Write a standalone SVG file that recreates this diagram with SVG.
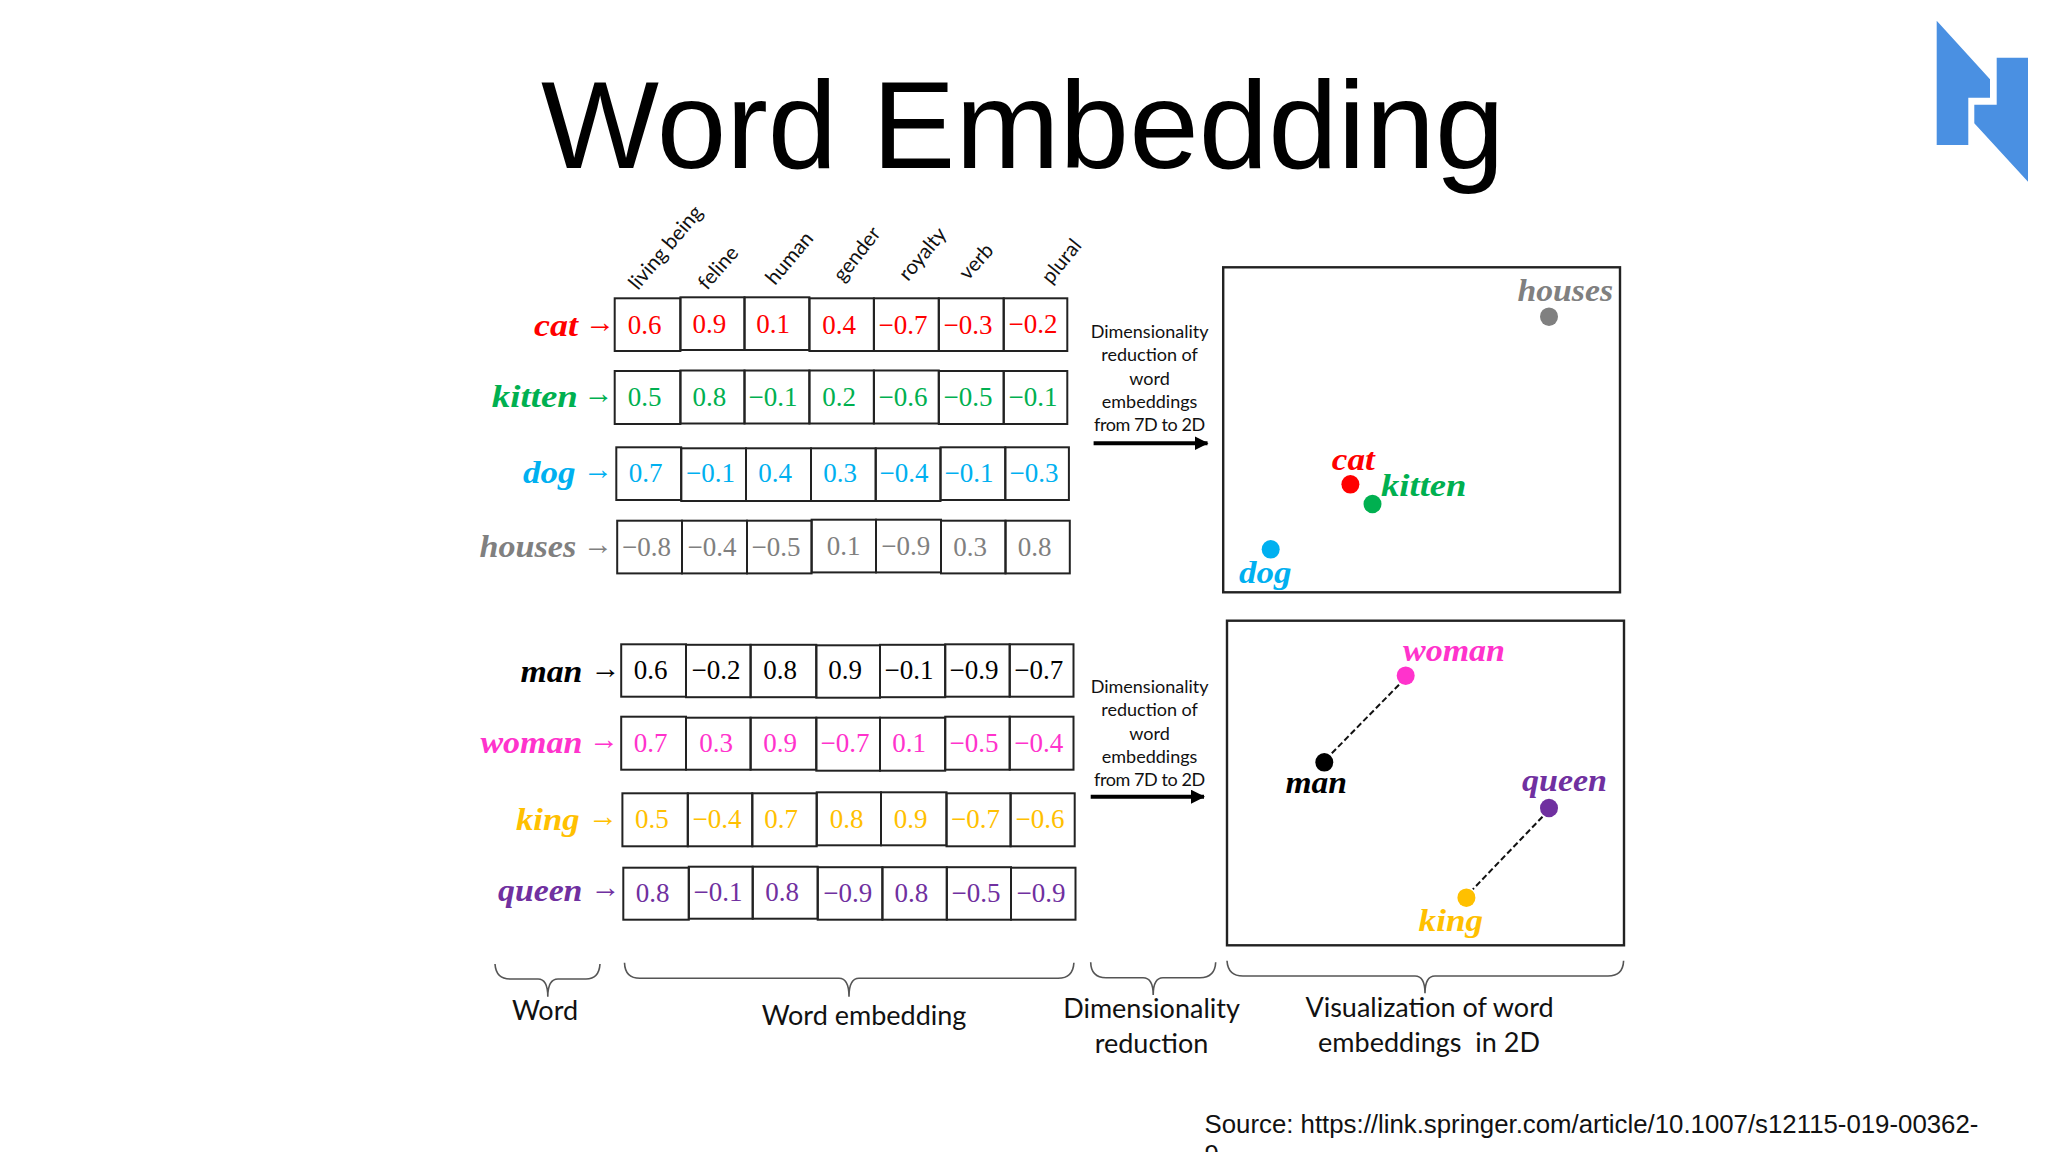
<svg xmlns="http://www.w3.org/2000/svg" width="2048" height="1152" viewBox="0 0 2048 1152">
<defs>
<style>
text{font-family:"Liberation Serif",serif}
.title{font-family:"Liberation Sans",Arial,sans-serif;font-size:125px;fill:#000}
.src{font-family:"Liberation Sans",Arial,sans-serif;font-size:25.8px;fill:#111}
.cal{font-family:Lato,"Open Sans",sans-serif;fill:#111}
.hd{font-size:20.5px}
.dim{font-size:18px;text-anchor:middle}
.cap{font-size:27px;text-anchor:middle}
.w{font-size:31px;font-weight:bold;font-style:italic}
.ar{font-size:30px}
.v{font-size:27px;text-anchor:middle}
rect.c{fill:none;stroke:#222;stroke-width:2}
.panel{fill:#fff;stroke:#222;stroke-width:2.4}
.red{fill:#f00}.green{fill:#00b050}.blue{fill:#00b0f0}.gray{fill:#808080}.black{fill:#000}.pink{fill:#ff33cc}.yellow{fill:#ffc000}.purple{fill:#7030a0}
.brace{fill:none;stroke:#555;stroke-width:1.6}
.dash{fill:none;stroke:#111;stroke-width:2;stroke-dasharray:6 3}
.arrow{fill:none;stroke:#000;stroke-width:4}
</style>
<marker id="head" markerUnits="userSpaceOnUse" markerWidth="14" markerHeight="16" refX="13" refY="7" orient="auto"><path d="M0 0L14 7L0 14Z" fill="#000"/></marker>
</defs>
<rect width="2048" height="1152" fill="#fff"/>
<text class="title" x="541" y="168">Word Embedding</text>
<g id="logo" fill="#4a90e2"><polygon points="1936.7,20.7 1990,79.3 1990,97.7 1968.3,97.7 1968.3,145 1936.7,145"/><polygon points="1996.7,57.7 2028,57.7 2028,181.7 1974.3,123.3 1974.3,104.7 1996.7,104.7"/></g>
<g id="features">
<text class="cal hd" transform="translate(638 291) rotate(-50)">living being</text>
<text class="cal hd" transform="translate(707 291) rotate(-49)">feline</text>
<text class="cal hd" transform="translate(775 286) rotate(-50)">human</text>
<text class="cal hd" transform="translate(843 283) rotate(-52)">gender</text>
<text class="cal hd" transform="translate(908 282) rotate(-50)">royalty</text>
<text class="cal hd" transform="translate(968 281) rotate(-48)">verb</text>
<text class="cal hd" transform="translate(1051 285) rotate(-51)">plural</text>
</g>
<g id="row-cat" class="red">
<text class="w" x="534" y="335.5" textLength="44" lengthAdjust="spacingAndGlyphs">cat</text><text class="ar" x="585" y="332.2">→</text>
<rect class="c" x="614.7" y="298.3" width="65.7" height="52.7"/><rect class="c" x="680.4" y="297.3" width="64.1" height="52.7"/><rect class="c" x="744.5" y="297.3" width="64.9" height="52.7"/><rect class="c" x="809.4" y="298.3" width="64.5" height="52.7"/><rect class="c" x="873.9" y="298.3" width="64.9" height="52.7"/><rect class="c" x="938.8" y="298.3" width="64.9" height="52.7"/><rect class="c" x="1003.7" y="298.3" width="63.6" height="52.7"/>
<text class="v" x="644.5" y="333.5">0.6</text><text class="v" x="709.4" y="332.5">0.9</text><text class="v" x="773" y="332.5">0.1</text><text class="v" x="839" y="333.5">0.4</text><text class="v" x="903" y="333.5">−0.7</text><text class="v" x="968" y="333.5">−0.3</text><text class="v" x="1033" y="332.5">−0.2</text>
</g>
<g id="row-kitten" class="green">
<text class="w" x="491.8" y="407.2" textLength="86" lengthAdjust="spacingAndGlyphs">kitten</text><text class="ar" x="583.4" y="403.2">→</text>
<rect class="c" x="614.7" y="371" width="65.7" height="53"/><rect class="c" x="680.4" y="370.5" width="64.1" height="53"/><rect class="c" x="744.5" y="370.5" width="64.9" height="53"/><rect class="c" x="809.4" y="370.5" width="64.5" height="53"/><rect class="c" x="873.9" y="370.5" width="64.9" height="53"/><rect class="c" x="938.8" y="371" width="64.9" height="53"/><rect class="c" x="1003.7" y="371" width="63.6" height="53"/>
<text class="v" x="644.5" y="406">0.5</text><text class="v" x="709.4" y="405.5">0.8</text><text class="v" x="773" y="405.5">−0.1</text><text class="v" x="839" y="405.5">0.2</text><text class="v" x="903" y="405.5">−0.6</text><text class="v" x="968" y="406">−0.5</text><text class="v" x="1033" y="406">−0.1</text>
</g>
<g id="row-dog" class="blue">
<text class="w" x="523" y="482.7" textLength="52.5" lengthAdjust="spacingAndGlyphs">dog</text><text class="ar" x="583" y="479.2">→</text>
<rect class="c" x="616.3" y="447.3" width="64.9" height="52.7"/><rect class="c" x="681.2" y="448.3" width="64.8" height="52.7"/><rect class="c" x="746" y="448.3" width="65" height="52.7"/><rect class="c" x="811" y="448.3" width="64.7" height="52.7"/><rect class="c" x="875.7" y="448.3" width="64.8" height="52.7"/><rect class="c" x="940.5" y="447.3" width="64.8" height="52.7"/><rect class="c" x="1005.3" y="447.3" width="63.6" height="52.7"/>
<text class="v" x="645.5" y="481.7">0.7</text><text class="v" x="710.5" y="481.7">−0.1</text><text class="v" x="775" y="481.7">0.4</text><text class="v" x="840" y="481.7">0.3</text><text class="v" x="904" y="481.7">−0.4</text><text class="v" x="969" y="481.7">−0.1</text><text class="v" x="1034" y="481.7">−0.3</text>
</g>
<g id="row-houses" class="gray">
<text class="w" x="479.6" y="557" textLength="96.7" lengthAdjust="spacingAndGlyphs">houses</text><text class="ar" x="583" y="553.5">→</text>
<rect class="c" x="617.2" y="520.7" width="64.8" height="52.7"/><rect class="c" x="682" y="520.7" width="65" height="52.7"/><rect class="c" x="747" y="520.7" width="64.6" height="52.7"/><rect class="c" x="811.6" y="519.7" width="64.4" height="52.7"/><rect class="c" x="876" y="519.7" width="65" height="52.7"/><rect class="c" x="941" y="520.7" width="64.5" height="52.7"/><rect class="c" x="1005.5" y="520.7" width="64.3" height="52.7"/>
<text class="v" x="646.5" y="555.5">−0.8</text><text class="v" x="712" y="555.5">−0.4</text><text class="v" x="776" y="555.5">−0.5</text><text class="v" x="843.7" y="554.5">0.1</text><text class="v" x="905.7" y="554.5">−0.9</text><text class="v" x="970" y="555.5">0.3</text><text class="v" x="1034.7" y="555.5">0.8</text>
</g>
<g id="row-man" class="black">
<text class="w" x="520.4" y="681.7" textLength="62" lengthAdjust="spacingAndGlyphs">man</text><text class="ar" x="590.4" y="677.5">→</text>
<rect class="c" x="621.2" y="644.3" width="64.8" height="52.4"/><rect class="c" x="686" y="644.8" width="64.6" height="52.4"/><rect class="c" x="750.6" y="644.8" width="65.7" height="52.4"/><rect class="c" x="816.3" y="645.3" width="63.7" height="52.4"/><rect class="c" x="880" y="644.8" width="65.2" height="52.4"/><rect class="c" x="945.2" y="644.3" width="64.5" height="52.4"/><rect class="c" x="1009.7" y="644.3" width="63.8" height="52.4"/>
<text class="v" x="650.6" y="679.3">0.6</text><text class="v" x="716" y="679.3">−0.2</text><text class="v" x="780" y="679.3">0.8</text><text class="v" x="845" y="679.3">0.9</text><text class="v" x="909" y="679.3">−0.1</text><text class="v" x="974" y="679.3">−0.9</text><text class="v" x="1038.8" y="679.3">−0.7</text>
</g>
<g id="row-woman" class="pink">
<text class="w" x="480.4" y="753.3" textLength="102" lengthAdjust="spacingAndGlyphs">woman</text><text class="ar" x="589" y="749.2">→</text>
<rect class="c" x="621.2" y="716.7" width="64.8" height="53"/><rect class="c" x="686" y="717.7" width="64.6" height="52"/><rect class="c" x="750.6" y="717.7" width="65.7" height="52"/><rect class="c" x="816.3" y="717.7" width="63.7" height="53"/><rect class="c" x="880" y="717.7" width="65.2" height="53"/><rect class="c" x="945.2" y="716.7" width="64.5" height="53"/><rect class="c" x="1009.7" y="716.7" width="63.8" height="53"/>
<text class="v" x="650.6" y="751.7">0.7</text><text class="v" x="716" y="752">0.3</text><text class="v" x="780" y="752">0.9</text><text class="v" x="845" y="752">−0.7</text><text class="v" x="909" y="752">0.1</text><text class="v" x="974" y="751.7">−0.5</text><text class="v" x="1038.8" y="751.7">−0.4</text>
</g>
<g id="row-king" class="yellow">
<text class="w" x="516" y="830.3" textLength="63.6" lengthAdjust="spacingAndGlyphs">king</text><text class="ar" x="588" y="826">→</text>
<rect class="c" x="622.4" y="793.3" width="65.4" height="53"/><rect class="c" x="687.8" y="793.3" width="64.5" height="53"/><rect class="c" x="752.3" y="793.3" width="64.4" height="53"/><rect class="c" x="816.7" y="792.3" width="64.3" height="53"/><rect class="c" x="881" y="792.3" width="65.5" height="53"/><rect class="c" x="946.5" y="793.3" width="64.1" height="53"/><rect class="c" x="1010.6" y="793.3" width="64.1" height="53"/>
<text class="v" x="651.8" y="828.3">0.5</text><text class="v" x="717" y="828.3">−0.4</text><text class="v" x="781" y="828.3">0.7</text><text class="v" x="846.5" y="827.5">0.8</text><text class="v" x="910.6" y="827.5">0.9</text><text class="v" x="975.5" y="828.3">−0.7</text><text class="v" x="1040" y="828.3">−0.6</text>
</g>
<g id="row-queen" class="purple">
<text class="w" x="498" y="900.5" textLength="84.4" lengthAdjust="spacingAndGlyphs">queen</text><text class="ar" x="590.4" y="897.2">→</text>
<rect class="c" x="623.3" y="867.7" width="65.5" height="52"/><rect class="c" x="688.8" y="866.7" width="63.9" height="52"/><rect class="c" x="752.7" y="866.7" width="65" height="52"/><rect class="c" x="817.7" y="867.2" width="64.7" height="52.5"/><rect class="c" x="882.4" y="867.2" width="64.4" height="52.5"/><rect class="c" x="946.8" y="867.2" width="64.2" height="52.5"/><rect class="c" x="1011" y="867.7" width="64.5" height="52"/>
<text class="v" x="652.6" y="902">0.8</text><text class="v" x="718" y="901">−0.1</text><text class="v" x="782" y="901">0.8</text><text class="v" x="847.8" y="901.7">−0.9</text><text class="v" x="911.4" y="901.7">0.8</text><text class="v" x="976" y="901.7">−0.5</text><text class="v" x="1041" y="901.7">−0.9</text>
</g>
<g id="reduction-top"><text class="cal dim" x="1149.6" y="338">Dimensionality</text><text class="cal dim" x="1149.6" y="361">reduction of</text><text class="cal dim" x="1149.6" y="384.5">word</text><text class="cal dim" x="1149.6" y="408">embeddings</text><text class="cal dim" x="1149.6" y="431" textLength="111">from 7D to 2D</text></g>
<g id="reduction-bottom"><text class="cal dim" x="1149.6" y="693">Dimensionality</text><text class="cal dim" x="1149.6" y="716">reduction of</text><text class="cal dim" x="1149.6" y="739.5">word</text><text class="cal dim" x="1149.6" y="763">embeddings</text><text class="cal dim" x="1149.6" y="786" textLength="111">from 7D to 2D</text></g>
<g id="panel-top">
<rect class="panel" x="1223.2" y="267.3" width="396.8" height="325"/>
<ellipse class="gray" cx="1549" cy="316.7" rx="9" ry="9.3"/><ellipse class="red" cx="1350.4" cy="484.3" rx="9" ry="9.3"/><ellipse class="green" cx="1372.5" cy="504" rx="9" ry="9.3"/><ellipse class="blue" cx="1270.7" cy="549.3" rx="9" ry="9.3"/>
<text class="w gray" x="1517.5" y="301" textLength="95.5" lengthAdjust="spacingAndGlyphs">houses</text><text class="w red" x="1331.8" y="470" textLength="43" lengthAdjust="spacingAndGlyphs">cat</text><text class="w green" x="1381" y="496" textLength="85.4" lengthAdjust="spacingAndGlyphs">kitten</text><text class="w blue" x="1239" y="582.5" textLength="52.4" lengthAdjust="spacingAndGlyphs">dog</text>
</g>
<g id="panel-bottom">
<rect class="panel" x="1227" y="620.7" width="397" height="324.6"/>
<ellipse class="pink" cx="1405.7" cy="675.7" rx="9" ry="9.3"/><ellipse class="black" cx="1324.3" cy="762.3" rx="9" ry="9.3"/><ellipse class="purple" cx="1549" cy="808" rx="9" ry="9.3"/><ellipse class="yellow" cx="1466.4" cy="897.7" rx="9" ry="9.3"/>
<text class="w pink" x="1403" y="661" textLength="102" lengthAdjust="spacingAndGlyphs">woman</text><text class="w black" x="1285.4" y="793" textLength="61.6" lengthAdjust="spacingAndGlyphs">man</text><text class="w purple" x="1522" y="791" textLength="85" lengthAdjust="spacingAndGlyphs">queen</text><text class="w yellow" x="1418.6" y="931" textLength="64.4" lengthAdjust="spacingAndGlyphs">king</text>
</g>
<g id="connectors">
<path class="arrow" d="M1093.6 443.3H1207.5" marker-end="url(#head)"/>
<path class="arrow" d="M1090.7 796.7H1204" marker-end="url(#head)"/>
<path class="dash" d="M1331.8 753.3L1400.4 683.3"/>
<path class="dash" d="M1542.5 816.7L1472.9 889.3"/>
<path class="brace" d="M495 964Q496 979 510 979H538Q547.8 979 547.8 996.7Q547.8 979 558 979H586Q599 979 600 964"/>
<path class="brace" d="M624.5 962.7Q625 978.3 640 978.3H839Q849 978.3 849 996.7Q849 978.3 859 978.3H1058Q1073 978.3 1073.9 962.7"/>
<path class="brace" d="M1090.7 962.3Q1091 977.7 1106 977.7H1143Q1153.2 977.7 1153.2 995Q1153.2 977.7 1163 977.7H1200Q1215 977.7 1215.7 962.3"/>
<path class="brace" d="M1227 960.7Q1228 976 1243 976H1415Q1425 976 1425 993.3Q1425 976 1435 976H1608Q1623 976 1623.6 960.7"/>
</g>
<g id="captions">
<text class="cal cap" x="545" y="1020">Word</text>
<text class="cal cap" x="864" y="1025">Word embedding</text>
<text class="cal cap" x="1151.5" y="1018">Dimensionality</text><text class="cal cap" x="1151.5" y="1053">reduction</text>
<text class="cal cap" x="1429.5" y="1017">Visualization of word</text><text class="cal cap" x="1429" y="1052" xml:space="preserve">embeddings  in 2D</text>
</g>
<text class="src" x="1204.5" y="1132.7">Source: https://link.springer.com/article/10.1007/s12115-019-00362-</text>
<text class="src" x="1204.5" y="1163">9</text>
</svg>
